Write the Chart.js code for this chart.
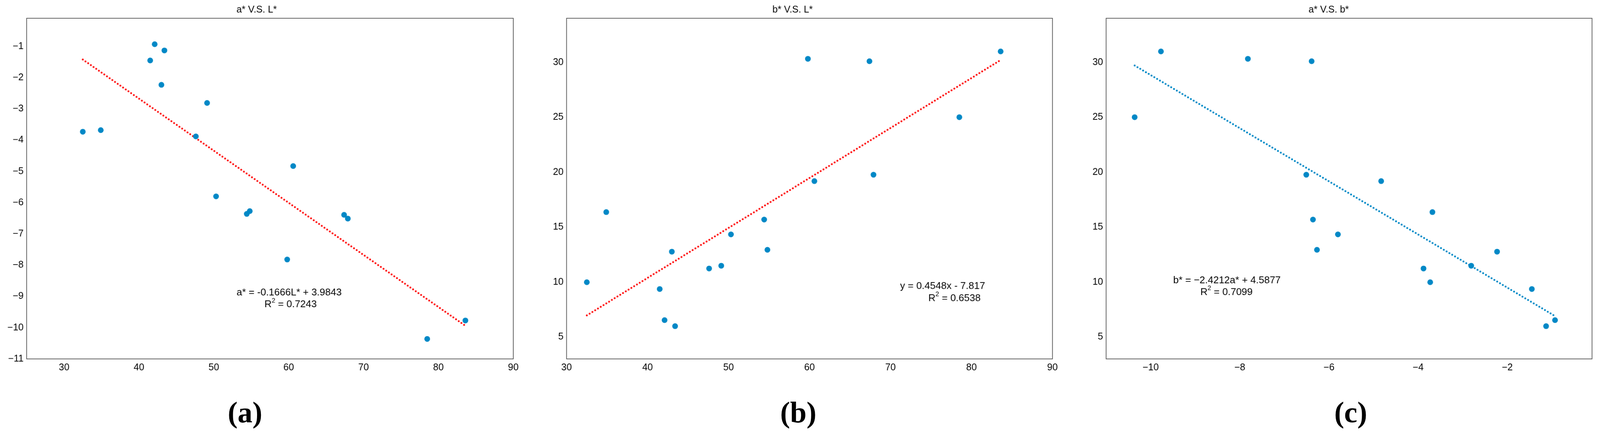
<!DOCTYPE html>
<html>
<head>
<meta charset="utf-8">
<script src="https://cdn.jsdelivr.net/npm/chart.js@4.4.1/dist/chart.umd.min.js"></script>
<style>
  html, body { margin: 0; padding: 0; background: #fff; overflow: hidden; }
  #page { position: absolute; left: 0; top: 0; width: 4205px; height: 1135px; transform-origin: 0 0; background: #fff; }
  canvas { position: absolute; top: 0; }
  .tag { position: absolute; top: 1040px; font: bold 78px "Liberation Serif", serif; line-height: 90px; transform: translateX(-50%); color: #000; }
</style>
</head>
<body>
<div id="page">
  <canvas id="chartA" width="1400" height="1010" style="left:0px"></canvas>
  <canvas id="chartB" width="1400" height="1010" style="left:1400px"></canvas>
  <canvas id="chartC" width="1405" height="1010" style="left:2800px"></canvas>
  <div class="tag" style="left:644px">(a)</div>
  <div class="tag" style="left:2098px">(b)</div>
  <div class="tag" style="left:3550px">(c)</div>
</div>
<script>
// samples: L*, a*, b*
const lightness = [32.5, 34.9, 41.5, 42.1, 43.4, 43.0, 47.6, 49.1, 50.3, 54.4, 54.8, 59.8, 60.6, 67.4, 67.9, 78.5, 83.6];
const aStar = [-3.73, -3.68, -1.45, -0.93, -1.13, -2.23, -3.88, -2.81, -5.80, -6.36, -6.27, -7.82, -4.83, -6.39, -6.51, -10.36, -9.77];
const bStar = [9.98, 16.36, 9.36, 6.53, 5.98, 12.76, 11.23, 11.48, 14.33, 15.68, 12.93, 30.31, 19.18, 30.09, 19.76, 25.0, 30.98];

// trend line end points
const trendAx = [32.5, 83.6];
const trendAy = [-1.42, -9.94];
const trendBx = [32.5, 83.6];
const trendBy = [6.96, 30.2];
const trendCx = [-10.36, -0.93];
const trendCy = [29.7, 6.9];

// tick labels
const ticksL = [30, 40, 50, 60, 70, 80, 90];
const ticksAneg = [-11, -10, -9, -8, -7, -6, -5, -4, -3, -2, -1];
const ticksB = [5, 10, 15, 20, 25, 30];
const ticksAx = [-10, -8, -6, -4, -2];

// the page is laid out at 4205px wide; shrink it if the window is narrower
const fitScale = Math.min(1, window.innerWidth / 4205);
if (fitScale < 1) document.getElementById('page').style.transform = 'scale(' + fitScale + ')';

const BLUE = '#0088c6';
const RED = '#ff1010';
Chart.defaults.font.family = '"Liberation Sans", Arial, sans-serif';
Chart.defaults.color = '#000';

const pts = (xs, ys) => xs.map((x, i) => ({ x: x, y: ys[i] }));
const fmt = v => (v < 0 ? '\u2212' + Math.abs(v) : String(v));

const framePlugin = {
  id: 'frame',
  afterDraw(chart) {
    const { ctx, chartArea: c } = chart;
    ctx.save();
    ctx.strokeStyle = '#3a3a3a';
    ctx.lineWidth = 1.6;
    ctx.strokeRect(c.left, c.top, c.right - c.left, c.bottom - c.top);
    ctx.restore();
  }
};

function eqPlugin(lines) {
  return {
    id: 'eq',
    afterDatasetsDraw(chart) {
      const ctx = chart.ctx, xs = chart.scales.x, ys = chart.scales.y;
      const fontOf = p => (p.sup ? 17 : 26) + 'px "Liberation Sans", Arial, sans-serif';
      ctx.save();
      ctx.fillStyle = '#000';
      ctx.textBaseline = 'middle';
      lines.forEach(line => {
        let w = 0;
        line.parts.forEach(p => { ctx.font = fontOf(p); w += ctx.measureText(p.t).width; });
        let x = xs.getPixelForValue(line.x) - w / 2;
        const y = ys.getPixelForValue(line.y);
        line.parts.forEach(p => {
          ctx.font = fontOf(p);
          ctx.fillText(p.t, x, p.sup ? y - 10 : y);
          x += ctx.measureText(p.t).width;
        });
      });
      ctx.restore();
    }
  };
}

function axis(min, max, tickVals, fit) {
  return {
    type: 'linear',
    min: min,
    max: max,
    grid: { display: false, drawTicks: false },
    border: { display: false },
    ticks: { padding: 8, font: { size: 25 }, color: '#000', autoSkip: false, maxRotation: 0, callback: fmt },
    afterBuildTicks: s => { s.ticks = tickVals.map(v => ({ value: v })); },
    afterFit: fit
  };
}

function makeChart(id, cfg) {
  new Chart(document.getElementById(id), {
    type: 'scatter',
    data: {
      datasets: [
        {
          data: cfg.points,
          backgroundColor: BLUE,
          borderWidth: 0,
          pointRadius: 7.5,
          pointHoverRadius: 7.5
        },
        {
          type: 'line',
          data: cfg.trend,
          showLine: true,
          borderColor: cfg.trendColor,
          borderWidth: 5,
          borderDash: [0, 8.6],
          borderCapStyle: 'round',
          pointRadius: 0,
          fill: false
        }
      ]
    },
    options: {
      responsive: false,
      animation: false,
      devicePixelRatio: 1,
      layout: { padding: { left: 0, right: cfg.padRight, top: 0, bottom: 0 } },
      plugins: {
        legend: { display: false },
        tooltip: { enabled: false },
        title: {
          display: true,
          text: cfg.title,
          font: { size: 25, weight: 'normal' },
          color: '#000',
          padding: { top: 11, bottom: 7 }
        }
      },
      scales: {
        x: axis(cfg.xMin, cfg.xMax, cfg.xTicks, s => { s.height = 66; }),
        y: axis(cfg.yMin, cfg.yMax, cfg.yTicks, s => { s.width = cfg.yWidth; })
      }
    },
    plugins: [framePlugin, eqPlugin(cfg.lines)]
  });
}

makeChart('chartA', {
  title: 'a* V.S. L*',
  points: pts(lightness, aStar),
  trend: pts(trendAx, trendAy),
  trendColor: RED,
  xMin: 25, xMax: 90, xTicks: ticksL,
  yMin: -11, yMax: -0.1, yTicks: ticksAneg,
  yWidth: 70, padRight: 51,
  lines: [
    { x: 60.06, y: -8.88, parts: [{ t: 'a* = -0.1666L* + 3.9843' }] },
    { x: 60.26, y: -9.26, parts: [{ t: 'R' }, { t: '2', sup: true }, { t: ' = 0.7243' }] }
  ]
});

makeChart('chartB', {
  title: 'b* V.S. L*',
  points: pts(lightness, bStar),
  trend: pts(trendBx, trendBy),
  trendColor: RED,
  xMin: 30, xMax: 90, xTicks: ticksL,
  yMin: 3, yMax: 34, yTicks: ticksB,
  yWidth: 89, padRight: 34,
  lines: [
    { x: 76.43, y: 9.62, parts: [{ t: 'y = 0.4548x - 7.817' }] },
    { x: 77.9, y: 8.52, parts: [{ t: 'R' }, { t: '2', sup: true }, { t: ' = 0.6538' }] }
  ]
});

makeChart('chartC', {
  title: 'a* V.S. b*',
  points: pts(aStar, bStar),
  trend: pts(trendCx, trendCy),
  trendColor: BLUE,
  xMin: -11, xMax: -0.1, xTicks: ticksAx,
  yMin: 3, yMax: 34, yTicks: ticksB,
  yWidth: 107, padRight: 21,
  lines: [
    { x: -8.29, y: 10.14, parts: [{ t: 'b* = \u22122.4212a* + 4.5877' }] },
    { x: -8.30, y: 9.07, parts: [{ t: 'R' }, { t: '2', sup: true }, { t: ' = 0.7099' }] }
  ]
});
</script>
</body>
</html>
